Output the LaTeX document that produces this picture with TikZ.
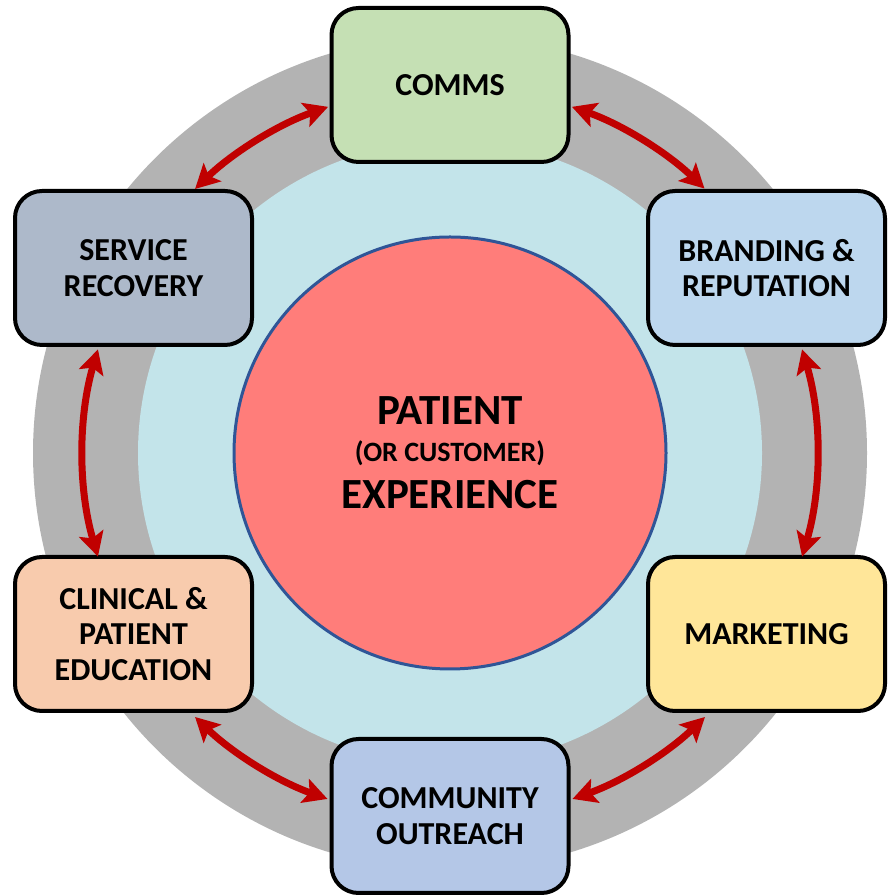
\documentclass[tikz,border=0pt]{standalone}
\usepackage{fontspec}
\setmainfont{Carlito}
\usetikzlibrary{arrows.meta,calc}
\definecolor{ringgray}{HTML}{B3B3B3}
\definecolor{innerblue}{HTML}{C3E4EA}
\definecolor{corered}{HTML}{FF7D7A}
\definecolor{coreedge}{HTML}{2F5597}
\definecolor{arrred}{HTML}{C00000}
\definecolor{cgreen}{HTML}{C5E0B4}
\definecolor{cbrand}{HTML}{BDD7EE}
\definecolor{cmarket}{HTML}{FFE699}
\definecolor{ccomm}{HTML}{B4C7E7}
\definecolor{cclin}{HTML}{F8CBAD}
\definecolor{cserv}{HTML}{ADB9CA}
\tikzset{
  topicbox/.style={draw=black, line width=4pt, rounded corners=27pt,
    minimum width=237pt, minimum height=154pt, inner sep=0pt,
    align=center, font=\fontsize{32}{35.5}\selectfont\bfseries},
  ringarrow/.style={draw=arrred, line width=7pt,
    {Stealth[length=24pt,width=25pt,inset=5pt]}-{Stealth[length=24pt,width=25pt,inset=5pt]}},
  coretext/.style={anchor=base, font=\fontsize{43}{43}\selectfont\bfseries},
  subtext/.style={anchor=base, font=\fontsize{28}{28}\selectfont\bfseries}
}
\begin{document}
\begin{tikzpicture}[x=1pt,y=1pt]
\useasboundingbox (0,0) rectangle (887,896);
\coordinate (c) at (450,443);
% rings
\fill[ringgray] (c) circle[radius=417];
\fill[innerblue] (c) circle[radius=312];
\node[circle, fill=corered, draw=coreedge, line width=3pt, minimum size=432pt, inner sep=0pt] (core) at (c) {};
\node[coretext] (pat1) at (450,471) {PATIENT};
\node[subtext] (pat2) at (450,434) {(OR CUSTOMER)};
\node[coretext] (pat3) at (450,387) {EXPERIENCE};
% boxes
\node[topicbox, fill=cgreen] (comms) at (450,811) {COMMS};
\node[topicbox, fill=cbrand] (brand) at (766.5,628) {BRANDING \&\\REPUTATION};
\node[topicbox, fill=cmarket] (market) at (766.5,262) {MARKETING};
\node[topicbox, fill=ccomm] (commun) at (450,80) {COMMUNITY\\OUTREACH};
\node[topicbox, fill=cclin] (clin) at (133.5,262) {CLINICAL \&\\PATIENT\\EDUCATION};
\node[topicbox, fill=cserv] (serv) at (133.5,628) {SERVICE\\RECOVERY};
% arrow end points on the ring
\coordinate (a1) at ($(c)+(70.6:367)$);
\coordinate (a2) at ($(c)+(16.4:367)$);
\coordinate (a3) at ($(c)+(-46:367)$);
\coordinate (a4) at ($(c)+(-109.5:367)$);
\coordinate (a5) at ($(c)+(196.4:367)$);
\coordinate (a6) at ($(c)+(134:367)$);
\draw[ringarrow] (a1) arc[start angle=70.6, end angle=46.1, radius=367];
\draw[ringarrow] (a2) arc[start angle=16.4, end angle=-16.4, radius=367];
\draw[ringarrow] (a3) arc[start angle=-46, end angle=-70.5, radius=367];
\draw[ringarrow] (a4) arc[start angle=-109.5, end angle=-134, radius=367];
\draw[ringarrow] (a5) arc[start angle=196.4, end angle=163.6, radius=367];
\draw[ringarrow] (a6) arc[start angle=134, end angle=109.4, radius=367];
\end{tikzpicture}
\end{document}
